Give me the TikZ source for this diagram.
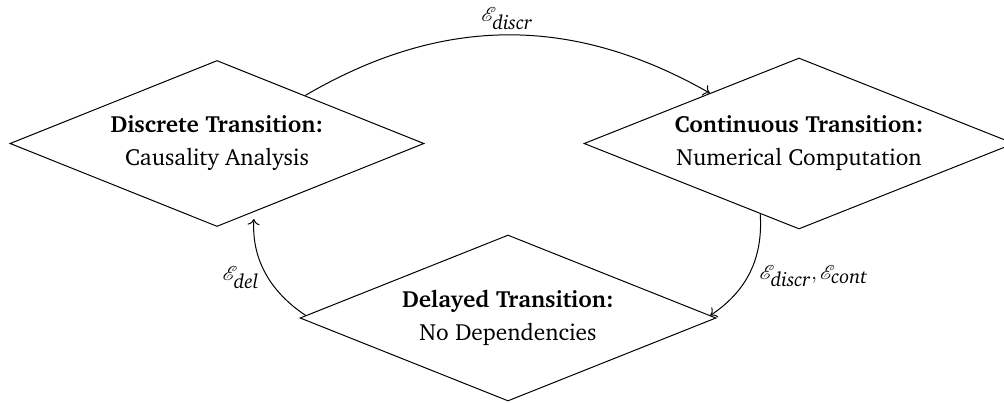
\documentclass[tikz,border=0pt]{standalone}
\usepackage[T1]{fontenc}
\usepackage{charter}
\usepackage{mathrsfs}
\usetikzlibrary{shapes.geometric,calc,arrows.meta}
\tikzset{
  state/.style={diamond, draw, line width=0.5pt, aspect=2.5, inner sep=0pt, minimum width=207pt, minimum height=83pt, align=center, font=\fontsize{11.7}{16.5}\selectfont},
  trans/.style={-{To[length=3pt,width=6pt]}, line width=0.5pt, bend left=30},
  lbl/.style={font=\fontsize{10}{12}\selectfont, inner sep=2.5pt}
}
\begin{document}
\begin{tikzpicture}[x=0.5pt,y=-0.5pt]
\useasboundingbox (0,0) rectangle (1004,402);
\node[state] (dis) at (217,143.5) {\textbf{Discrete Transition:}\\Causality Analysis};
\node[state, minimum width=215pt, minimum height=85.5pt] (con) at (799,143.5) {\textbf{Continuous Transition:}\\Numerical Computation};
\node[state, minimum width=208pt] (del) at (508,318) {\textbf{Delayed Transition:}\\No Dependencies};
\coordinate (a1) at ($(dis.north)!0.425!(dis.east)$);
\coordinate (b1) at ($(con.north)!0.414!(con.west)$);
\coordinate (a2) at ($(con.south)!0.18!(con.west)$);
\coordinate (b2) at ($(del.east)!0.03!(del.north)$);
\coordinate (a3) at ($(del.west)!0.03!(del.north)$);
\coordinate (b3) at ($(dis.south)!0.18!(dis.east)$);
\draw[trans] (a1) to node[above, lbl] (l1) {$\mathscr{E}_{\textit{discr}}$} (b1);
\draw[trans] (a2) to node[right, lbl, xshift=2pt, yshift=-2pt] (l2) {$\mathscr{E}_{\textit{discr}},\mathscr{E}_{\textit{cont}}$} (b2);
\draw[trans, shorten >=3.5pt] (a3) to node[left, lbl, yshift=-3pt] (l3) {$\mathscr{E}_{\textit{del}}$} (b3);
\end{tikzpicture}
\end{document}
